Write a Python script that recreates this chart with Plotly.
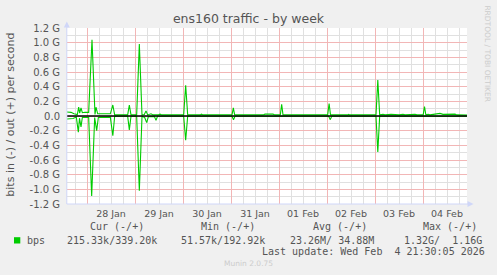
import plotly.graph_objects as go

W, H = 497, 275
L, R, T, B = 67, 30, 28, 71
PW, PH = W - L - R, H - T - B  # 400 x 176


def px2x(px):
    return (px - L) / PW


def px2y(py):
    return (H - B - py) / PH


# 400 px at 30 min per px = 200 h
x_start = "2026-01-27 14:00"
x_end = "2026-02-04 22:00"

# ---- data (G bits/s) ----
out_times = [
    "2026-01-27 14:00", "2026-01-27 16:00", "2026-01-27 17:30", "2026-01-27 19:10",
    "2026-01-27 19:50", "2026-01-27 20:20", "2026-01-27 21:00", "2026-01-27 21:40",
    "2026-01-27 23:00", "2026-01-28 00:50", "2026-01-28 02:30", "2026-01-28 04:00",
    "2026-01-28 04:30", "2026-01-28 05:20", "2026-01-28 11:40", "2026-01-28 12:55",
    "2026-01-28 13:50", "2026-01-28 20:20", "2026-01-28 21:10", "2026-01-28 22:00",
    "2026-01-29 00:50", "2026-01-29 02:10", "2026-01-29 03:30", "2026-01-29 04:40",
    "2026-01-29 05:30", "2026-01-29 06:20", "2026-01-29 08:00", "2026-01-29 09:00",
    "2026-01-29 11:30", "2026-01-29 12:30", "2026-01-29 13:30", "2026-01-29 21:00",
    "2026-01-29 22:30", "2026-01-30 00:20", "2026-01-30 01:20", "2026-01-30 02:20",
    "2026-01-30 08:30", "2026-01-30 09:15", "2026-01-30 10:00", "2026-01-30 18:30",
    "2026-01-30 19:30", "2026-01-30 21:30", "2026-01-30 22:30", "2026-01-31 00:30",
    "2026-01-31 01:10", "2026-01-31 01:50", "2026-01-31 16:00", "2026-01-31 17:00",
    "2026-01-31 21:00", "2026-01-31 22:00", "2026-02-01 00:40", "2026-02-01 01:20",
    "2026-02-01 02:00", "2026-02-01 06:30", "2026-02-01 07:30", "2026-02-01 09:00",
    "2026-02-01 12:00", "2026-02-01 13:30", "2026-02-01 19:20", "2026-02-01 19:55",
    "2026-02-01 20:30", "2026-02-02 00:20", "2026-02-02 01:03", "2026-02-02 01:45",
    "2026-02-02 10:20", "2026-02-02 10:50", "2026-02-02 11:20", "2026-02-02 17:00",
    "2026-02-02 18:00", "2026-02-02 21:30", "2026-02-02 22:30", "2026-02-03 00:30",
    "2026-02-03 01:24", "2026-02-03 02:20", "2026-02-03 04:00", "2026-02-03 05:00",
    "2026-02-03 08:00", "2026-02-03 12:00", "2026-02-03 14:00", "2026-02-03 15:00",
    "2026-02-03 20:00", "2026-02-03 21:00", "2026-02-04 00:05", "2026-02-04 00:45",
    "2026-02-04 01:25", "2026-02-04 02:35", "2026-02-04 03:30", "2026-02-04 06:00",
    "2026-02-04 08:30", "2026-02-04 10:00", "2026-02-04 16:00", "2026-02-04 17:00",
    "2026-02-04 22:00",
]
out_gbps = [
    0.055, 0.05, 0.03, 0.02,
    0.12, 0.04, 0.11, 0.045,
    0.05, 0.05, 1.04, 0.02,
    0.12, 0.03, 0.03, 0.15,
    0.015, 0.015, 0.15, 0.015,
    0.015, 0.98, 0.015, 0.02,
    0.07, 0.015, 0.03, 0.015,
    0.015, 0.025, 0.015, 0.015,
    0.02, 0.015, 0.42, 0.015,
    0.015, 0.025, 0.015, 0.015,
    0.025, 0.022, 0.015, 0.015,
    0.11, 0.015, 0.015, 0.025,
    0.025, 0.015, 0.015, 0.16,
    0.015, 0.015, 0.022, 0.015,
    0.022, 0.015, 0.015, 0.025,
    0.015, 0.015, 0.17, 0.015,
    0.015, 0.022, 0.015, 0.015,
    0.022, 0.022, 0.015, 0.015,
    0.49, 0.015, 0.022, 0.015,
    0.022, 0.015, 0.022, 0.015,
    0.022, 0.015, 0.015, 0.13,
    0.015, 0.022, 0.015, 0.022,
    0.035, 0.022, 0.025, 0.015,
    0.012,
]

in_times = [
    "2026-01-27 14:00", "2026-01-27 17:00", "2026-01-27 18:40", "2026-01-27 19:40",
    "2026-01-27 20:15", "2026-01-27 21:00", "2026-01-27 21:40", "2026-01-28 00:50",
    "2026-01-28 02:20", "2026-01-28 03:50", "2026-01-28 04:50", "2026-01-28 05:40",
    "2026-01-28 11:40", "2026-01-28 12:55", "2026-01-28 13:50", "2026-01-28 20:20",
    "2026-01-28 21:10", "2026-01-28 22:00", "2026-01-29 00:50", "2026-01-29 02:10",
    "2026-01-29 03:30", "2026-01-29 04:50", "2026-01-29 05:50", "2026-01-29 06:40",
    "2026-01-29 09:40", "2026-01-29 10:30", "2026-01-29 11:15", "2026-01-30 00:20",
    "2026-01-30 01:20", "2026-01-30 02:20", "2026-01-31 00:30", "2026-01-31 01:15",
    "2026-01-31 02:00", "2026-02-02 00:50", "2026-02-02 01:40", "2026-02-02 02:20",
    "2026-02-03 00:30", "2026-02-03 01:24", "2026-02-03 02:20", "2026-02-04 22:00",
]
in_gbps = [
    0.04, 0.035, 0.015, 0.22,
    0.03, 0.15, 0.02, 0.02,
    1.09, 0.02, 0.20, 0.02,
    0.015, 0.27, 0.004, 0.004,
    0.19, 0.004, 0.004, 1.02,
    0.004, 0.02, 0.09, 0.01,
    0.005, 0.06, 0.004, 0.004,
    0.33, 0.004, 0.004, 0.05,
    0.004, 0.004, 0.05, 0.004,
    0.004, 0.49, 0.004, 0.004,
]

days = ["2026-01-27", "2026-01-28", "2026-01-29", "2026-01-30", "2026-01-31",
        "2026-02-01", "2026-02-02", "2026-02-03", "2026-02-04"]
minor_hours = ["06:00", "12:00", "18:00"]

y_tick_vals = [-1.2, -1.0, -0.8, -0.6, -0.4, -0.2, 0.0, 0.2, 0.4, 0.6, 0.8, 1.0, 1.2]
y_tick_text = ["-1.2 G", "-1.0 G", "-0.8 G", "-0.6 G", "-0.4 G", "-0.2 G", "0.0",
               "0.2 G", "0.4 G", "0.6 G", "0.8 G", "1.0 G", "1.2 G"]
y_minor_vals = [-1.1, -0.9, -0.7, -0.5, -0.3, -0.1, 0.1, 0.3, 0.5, 0.7, 0.9, 1.1]

legend_headers = ["Cur (-/+)", "Min (-/+)", "Avg (-/+)", "Max (-/+)"]
legend_values = ["215.33k/339.20k", "51.57k/192.92k", "23.26M/ 34.88M", "1.32G/  1.16G"]
series_name = "bps"
last_update = "Last update: Wed Feb  4 21:30:05 2026"

GREEN = "#00CC00"
TXT = "#555555"
AXIS = "#CFD6F8"
MAJ = "#F2B6B6"
MIN = "#E0E0E0"

fig = go.Figure()
fig.add_trace(go.Scatter(x=in_times, y=[-v * 1e9 for v in in_gbps], mode="lines",
                         line=dict(color=GREEN, width=1.1), hoverinfo="skip"))
fig.add_trace(go.Scatter(x=out_times, y=[v * 1e9 for v in out_gbps], mode="lines",
                         line=dict(color=GREEN, width=1.1), hoverinfo="skip"))

fig.update_layout(
    width=W, height=H,
    margin=dict(l=L, r=R, t=T, b=B),
    paper_bgcolor="#F0F0F0",
    plot_bgcolor="#FFFFFF",
    showlegend=False,
    font=dict(family="DejaVu Sans", color=TXT, size=10),
    title=dict(text="ens160 traffic - by week", x=0.5, xanchor="center",
               y=1 - 19 / H, yanchor="middle",
               font=dict(family="DejaVu Sans", size=12.5, color=TXT)),
)

fig.update_xaxes(
    type="date", range=[x_start, x_end],
    tick0="2026-01-28", dtick=86400000, tickformat="%d %b", ticklabelmode="period",
    showgrid=True, gridcolor=MAJ, gridwidth=1,
    minor=dict(tickmode="array", tickvals=[d + " " + h for d in days for h in minor_hours],
               showgrid=True, gridcolor=MIN, gridwidth=1),
    showline=False, zeroline=False, ticks="",
    tickfont=dict(size=9.5, color=TXT), ticklabelstandoff=2,
)
fig.update_yaxes(
    range=[-1.2e9, 1.2e9],
    tickvals=[v * 1e9 for v in y_tick_vals], ticktext=y_tick_text,
    showgrid=True, gridcolor=MAJ, gridwidth=1,
    minor=dict(tickmode="array", tickvals=[v * 1e9 for v in y_minor_vals],
               showgrid=True, gridcolor=MIN, gridwidth=1),
    zeroline=False,
    showline=False, ticks="",
    tickfont=dict(size=10, color=TXT), ticklabelstandoff=6,
)

shapes = []
# zero rule drawn over the traces
shapes.append(dict(type="line", xref="paper", yref="y", layer="above",
                   x0=0, x1=1, y0=0, y1=0, line=dict(color="#000000", width=1.3)))
# axis lines
shapes.append(dict(type="line", xref="paper", yref="paper",
                   x0=px2x(66.8), x1=px2x(66.8), y0=px2y(204), y1=px2y(24),
                   line=dict(color=AXIS, width=1)))
shapes.append(dict(type="line", xref="paper", yref="paper",
                   x0=px2x(66.8), x1=px2x(470), y0=px2y(204), y1=px2y(204),
                   line=dict(color=AXIS, width=1)))
# arrows
shapes.append(dict(type="path", xref="paper", yref="paper",
                   path="M {} {} L {} {} L {} {} Z".format(
                       px2x(63.8), px2y(27.5), px2x(69.8), px2y(27.5), px2x(66.8), px2y(21.5)),
                   fillcolor=AXIS, line=dict(width=0)))
shapes.append(dict(type="path", xref="paper", yref="paper",
                   path="M {} {} L {} {} L {} {} Z".format(
                       px2x(467.5), px2y(201), px2x(467.5), px2y(207), px2x(473.5), px2y(204)),
                   fillcolor=AXIS, line=dict(width=0)))
# legend colour box
shapes.append(dict(type="rect", xref="paper", yref="paper",
                   x0=px2x(14), x1=px2x(20.3), y0=px2y(243.5), y1=px2y(237.2),
                   fillcolor=GREEN, line=dict(width=0)))
fig.update_layout(shapes=shapes)

MONO = "DejaVu Sans Mono"


def nb(s):
    return s.replace(" ", "\u00a0")


ann = []
ann.append(dict(text="bits in (-) / out (+) per second", xref="paper", yref="paper",
                x=px2x(11), y=px2y(114.7), textangle=-90, showarrow=False,
                xanchor="center", yanchor="middle",
                font=dict(family="DejaVu Sans", size=11, color=TXT)))
ann.append(dict(text="RRDTOOL / TOBI OETIKER", xref="paper", yref="paper",
                x=px2x(488), y=px2y(53.4), textangle=90, showarrow=False,
                xanchor="center", yanchor="middle",
                font=dict(family="DejaVu Sans", size=7.5, color="#CCCCCC")))
header_x = [89.3, 200.7, 312.3, 422.7]
for hx, htxt in zip(header_x, legend_headers):
    ann.append(dict(text=nb(htxt), xref="paper", yref="paper", x=px2x(hx - 0.8), y=px2y(226.7),
                    showarrow=False, xanchor="left", yanchor="middle", borderpad=0,
                    font=dict(family=MONO, size=10, color=TXT)))
ann.append(dict(text=series_name, xref="paper", yref="paper", x=px2x(26.7 - 0.8), y=px2y(240),
                showarrow=False, xanchor="left", yanchor="middle", borderpad=0,
                font=dict(family=MONO, size=10, color=TXT)))
value_x = [66.7, 180.7, 289.3, 404.0]
for vx, vtxt in zip(value_x, legend_values):
    ann.append(dict(text=nb(vtxt), xref="paper", yref="paper", x=px2x(vx - 0.8), y=px2y(240),
                    showarrow=False, xanchor="left", yanchor="middle", borderpad=0,
                    font=dict(family=MONO, size=10, color=TXT)))
ann.append(dict(text=nb(last_update), xref="paper", yref="paper", x=px2x(261.7 - 0.8), y=px2y(251.7),
                showarrow=False, xanchor="left", yanchor="middle", borderpad=0,
                font=dict(family=MONO, size=10, color=TXT)))
ann.append(dict(text="Munin 2.0.75", xref="paper", yref="paper", x=px2x(248), y=px2y(263.3),
                showarrow=False, xanchor="center", yanchor="middle", borderpad=0,
                font=dict(family="DejaVu Sans", size=7.5, color="#CCCCCC")))
fig.update_layout(annotations=ann)

fig.write_html("out.html")
